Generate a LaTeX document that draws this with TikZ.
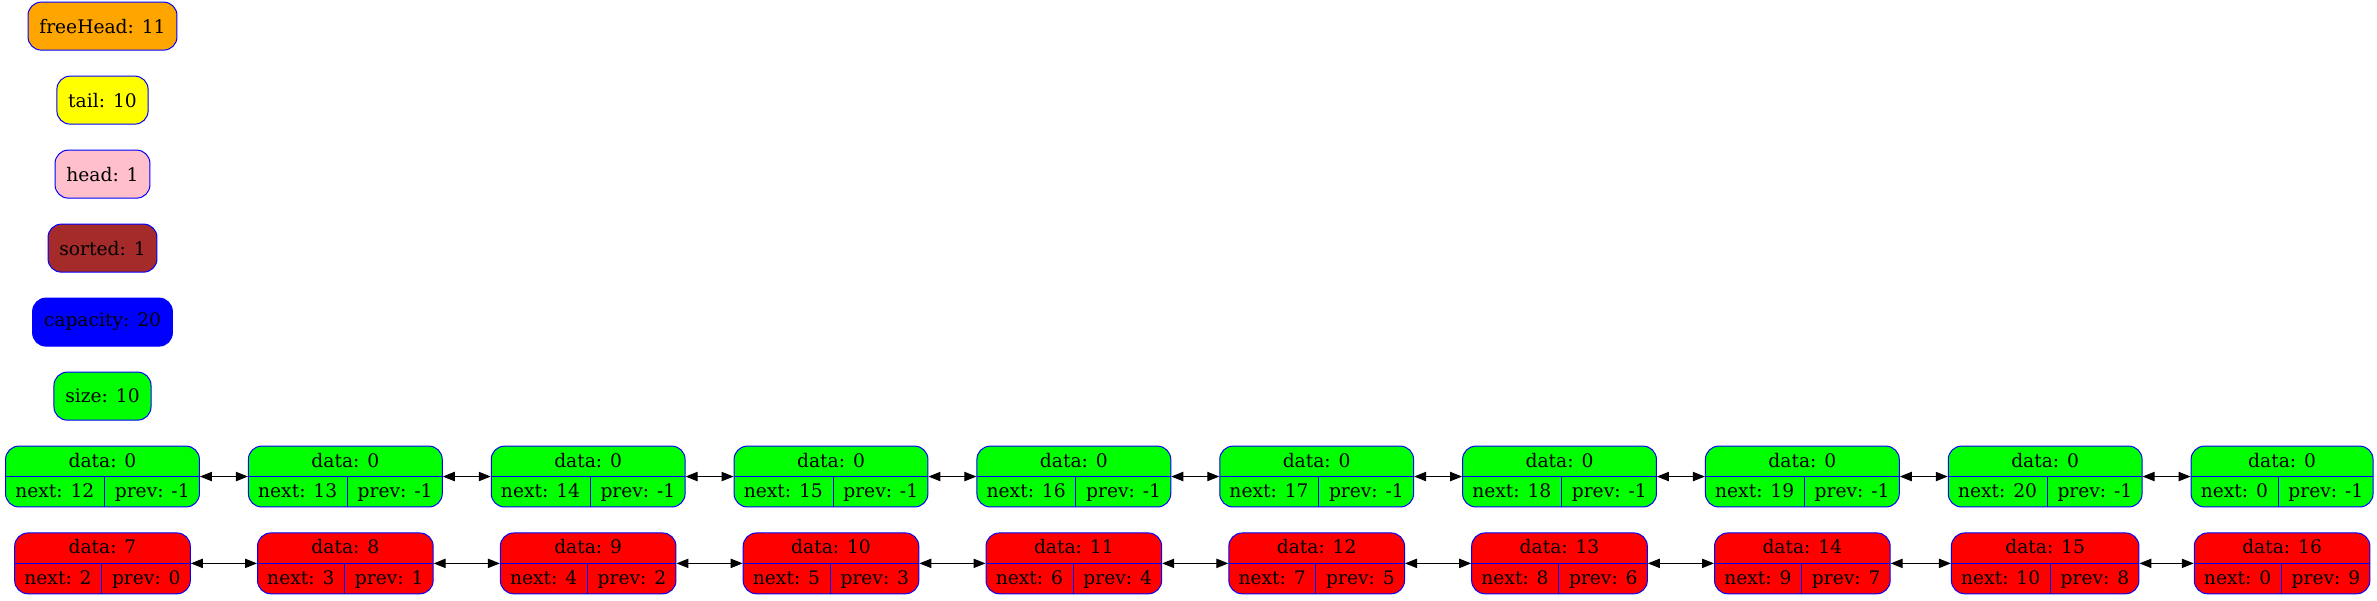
\documentclass[tikz,border=0pt]{standalone}
\usepackage{fontspec}
\setmainfont{DejaVu Serif}
\usepackage{colortbl}
\usetikzlibrary{positioning,arrows.meta}
\definecolor{orangefill}{HTML}{FFA500}
\definecolor{yellowfill}{HTML}{FFFF00}
\definecolor{pinkfill}{HTML}{FFC0CB}
\definecolor{brownfill}{HTML}{A52A2A}
\definecolor{bluefill}{HTML}{0000FF}
\definecolor{greenfill}{HTML}{00FF00}
\definecolor{redfill}{HTML}{FF0000}
\setlength{\tabcolsep}{7.3pt}
\setlength{\arrayrulewidth}{0.75pt}
\renewcommand{\arraystretch}{1.32}
\newcommand{\listrec}[3]{\arrayrulecolor{blue}\begin{tabular}{c|c}
	\multicolumn{2}{c}{data: #1}\\\hline
	next: #2 & prev: #3\end{tabular}}
\tikzset{field/.style={draw=blue,rounded corners=10pt,minimum height=36pt,
		inner xsep=8.5pt,font=\fontsize{14}{17}\selectfont},
	record/.style={field,inner sep=0pt,minimum height=0pt}}

\begin{document}
\begin{tikzpicture}[>={Triangle[length=9pt,width=7pt]},line width=0.75pt,node distance=18.75pt]
	\useasboundingbox (0,0) rectangle (1782.75pt,-450pt);
	\node[record,fill=greenfill] (g1) at (76.875pt,-357.4pt) {\listrec{0}{12}{-1}};
	\node[record,fill=greenfill] (g2) [right=36pt of g1] {\listrec{0}{13}{-1}};
	\node[record,fill=greenfill] (g3) [right=36pt of g2] {\listrec{0}{14}{-1}};
	\node[record,fill=greenfill] (g4) [right=36pt of g3] {\listrec{0}{15}{-1}};
	\node[record,fill=greenfill] (g5) [right=36pt of g4] {\listrec{0}{16}{-1}};
	\node[record,fill=greenfill] (g6) [right=36pt of g5] {\listrec{0}{17}{-1}};
	\node[record,fill=greenfill] (g7) [right=36pt of g6] {\listrec{0}{18}{-1}};
	\node[record,fill=greenfill] (g8) [right=36pt of g7] {\listrec{0}{19}{-1}};
	\node[record,fill=greenfill] (g9) [right=36pt of g8] {\listrec{0}{20}{-1}};
	\node[record,fill=greenfill] (g10) [right=36pt of g9] {\listrec{0}{0}{-1}};
	\node[record,fill=redfill] (r1) [below=of g1] {\listrec{7}{2}{0}};
	\node[record,fill=redfill] (r2) [below=of g2] {\listrec{8}{3}{1}};
	\node[record,fill=redfill] (r3) [below=of g3] {\listrec{9}{4}{2}};
	\node[record,fill=redfill] (r4) [below=of g4] {\listrec{10}{5}{3}};
	\node[record,fill=redfill] (r5) [below=of g5] {\listrec{11}{6}{4}};
	\node[record,fill=redfill] (r6) [below=of g6] {\listrec{12}{7}{5}};
	\node[record,fill=redfill] (r7) [below=of g7] {\listrec{13}{8}{6}};
	\node[record,fill=redfill] (r8) [below=of g8] {\listrec{14}{9}{7}};
	\node[record,fill=redfill] (r9) [below=of g9] {\listrec{15}{10}{8}};
	\node[record,fill=redfill] (r10) [below=of g10] {\listrec{16}{0}{9}};
	\node[field,fill=greenfill] (size) [above=of g1] {size: 10};
	\node[field,fill=bluefill] (capacity) [above=of size] {capacity: 20};
	\node[field,fill=brownfill] (sorted) [above=of capacity] {sorted: 1};
	\node[field,fill=pinkfill] (head) [above=of sorted] {head: 1};
	\node[field,fill=yellowfill] (tail) [above=of head] {tail: 10};
	\node[field,fill=orangefill] (freehead) [above=of tail] {freeHead: 11};
	\path[<->]
	(g1) edge (g2)
	(g2) edge (g3)
	(g3) edge (g4)
	(g4) edge (g5)
	(g5) edge (g6)
	(g6) edge (g7)
	(g7) edge (g8)
	(g8) edge (g9)
	(g9) edge (g10)
	(r1) edge (r2)
	(r2) edge (r3)
	(r3) edge (r4)
	(r4) edge (r5)
	(r5) edge (r6)
	(r6) edge (r7)
	(r7) edge (r8)
	(r8) edge (r9)
	(r9) edge (r10);
\end{tikzpicture}
\end{document}
